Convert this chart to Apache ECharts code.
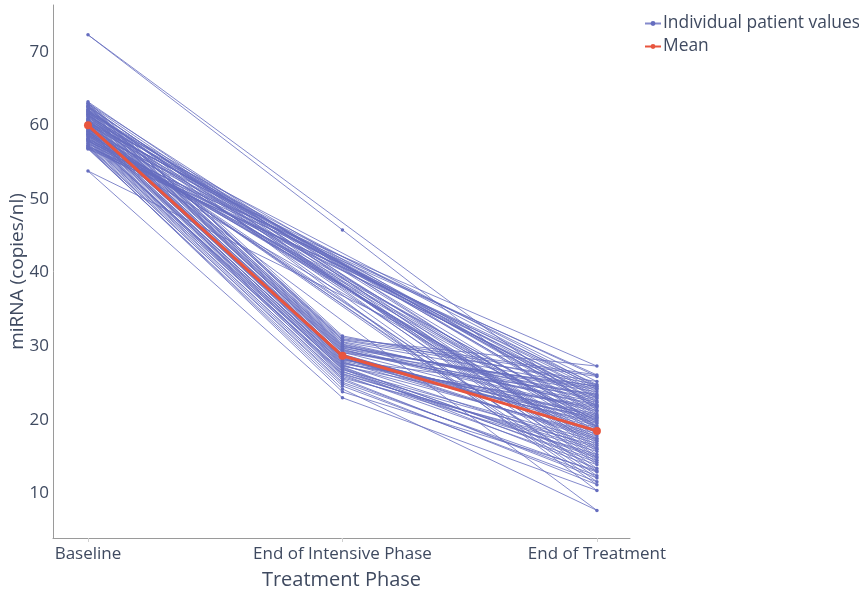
<!DOCTYPE html>
<html>
<head>
<meta charset="utf-8">
<script src="https://cdn.jsdelivr.net/npm/echarts@6/dist/echarts.min.js"></script>
<style>
html,body{margin:0;padding:0;background:#fff;}
#chart{width:859px;height:589px;}
</style>
</head>
<body>
<div id="chart"></div>
<script>
// Treatment phases (x categories)
const phases = ['Baseline', 'End of Intensive Phase', 'End of Treatment'];
const yTicks = [10, 20, 30, 40, 50, 60, 70];

// Individual patient values, one entry per patient
const baselineValues = [
  60.8, 58.2, 62.1, 59.4, 57.3, 61.5, 72.3, 60.2, 58.9, 63.2,
  56.8, 59.7, 61.9, 60.5, 57.9, 62.7, 59.1, 58.5, 61.2, 60.0,
  53.8, 62.4, 57.6, 59.8, 61.7, 58.1, 60.9, 63.0, 57.1, 59.5,
  61.0, 60.3, 58.7, 62.9, 56.9, 59.2, 61.4, 60.6, 58.3, 62.2,
  57.5, 59.9, 61.6, 60.1, 58.8, 62.6, 57.8, 59.3, 61.3, 60.4,
  58.0, 62.0, 57.2, 59.6, 61.8, 60.7, 58.6, 62.5, 57.0, 59.0
];
const intensiveValues = [
  28.9, 27.2, 30.5, 26.8, 25.4, 29.8, 45.8, 28.1, 27.5, 31.4,
  24.6, 28.4, 30.1, 29.2, 26.1, 30.8, 27.9, 25.9, 29.5, 28.7,
  23.0, 30.3, 26.5, 28.2, 29.9, 27.0, 28.8, 31.0, 25.1, 27.7,
  29.4, 28.6, 26.3, 30.6, 24.2, 27.4, 29.6, 28.3, 26.9, 30.0,
  25.7, 28.0, 29.7, 28.5, 27.1, 30.9, 25.6, 27.8, 29.3, 28.9,
  26.6, 30.2, 24.9, 27.6, 29.1, 28.4, 26.2, 31.2, 23.8, 27.3
];
const endValues = [
  19.2, 14.8, 22.6, 17.1, 12.4, 21.3, 19.0, 23.5, 16.2, 24.8,
  11.6, 18.7, 21.9, 20.4, 13.9, 25.2, 17.8, 15.3, 22.1, 19.9,
  10.4, 23.1, 16.8, 20.8, 24.1, 14.2, 18.3, 27.3, 12.9, 21.6,
  22.9, 20.1, 15.7, 24.5, 7.7, 18.1, 21.1, 19.5, 13.4, 23.8,
  16.5, 20.6, 24.3, 17.5, 15.0, 25.9, 12.1, 19.7, 22.4, 18.9,
  14.5, 23.3, 11.2, 21.8, 24.6, 17.3, 16.0, 26.1, 13.1, 20.3
];
// Mean per phase
const meanValues = [60.0, 28.7, 18.5];

// Build one long-format trace: patient by patient, phase by phase
const individualData = [];
for (let i = 0; i < baselineValues.length; i++) {
  individualData.push([0, baselineValues[i]]);
  individualData.push([1, intensiveValues[i]]);
  individualData.push([2, endValues[i]]);
}
const meanData = meanValues.map((v, i) => [i, v]);

const textColor = '#3f4a60';
const blue = '#656dbf';
const red = '#e8553e';
const chart = echarts.init(document.getElementById('chart'), null, {renderer: 'canvas'});
chart.setOption({
  animation: false,
  backgroundColor: '#ffffff',
  textStyle: {fontFamily: 'Open Sans'},
  grid: {left: 53, right: 229, top: 5, bottom: 51, containLabel: false, outerBoundsMode: 'none'},
  legend: {
    orient: 'vertical',
    left: 644,
    top: 15,
    padding: 0,
    itemGap: 6,
    itemWidth: 16,
    itemHeight: 6,
    textStyle: {fontSize: 17.4, color: textColor, fontFamily: 'Open Sans', padding: [0, 0, 0, -3]},
    data: ['Individual patient values', 'Mean']
  },
  xAxis: {
    type: 'value',
    min: -0.1375,
    max: 2.13,
    name: 'Treatment Phase',
    nameLocation: 'middle',
    nameGap: 32,
    nameTextStyle: {fontSize: 20, color: textColor, fontFamily: 'Open Sans'},
    splitLine: {show: false},
    axisLine: {show: true, onZero: false, lineStyle: {color: '#9a9a9a', width: 1}},
    axisTick: {show: true, length: 4, lineStyle: {color: '#d0d0d0'}, customValues: [0, 1, 2]},
    axisLabel: {
      fontSize: 17, color: textColor, margin: 8, fontFamily: 'Open Sans',
      customValues: [0, 1, 2],
      formatter: v => phases[Math.round(v)]
    }
  },
  yAxis: {
    type: 'value',
    min: 3.95,
    max: 76.35,
    name: 'miRNA (copies/nl)',
    nameLocation: 'middle',
    nameGap: 26,
    nameMoveOverlap: false,
    nameTextStyle: {fontSize: 19, color: textColor, fontFamily: 'Open Sans'},
    splitLine: {show: false},
    axisLine: {show: true, onZero: false, lineStyle: {color: '#9a9a9a', width: 1}},
    axisTick: {show: false},
    axisLabel: {
      fontSize: 17, color: textColor, margin: 4, fontFamily: 'Open Sans',
      customValues: yTicks
    }
  },
  series: [
    {
      name: 'Individual patient values',
      type: 'line',
      data: individualData,
      symbol: 'circle',
      symbolSize: 3.5,
      showSymbol: true,
      itemStyle: {color: blue},
      lineStyle: {color: blue, width: 1, opacity: 0.8},
      emphasis: {disabled: true},
      z: 2
    },
    {
      name: 'Mean',
      type: 'line',
      data: meanData,
      symbol: 'circle',
      symbolSize: 8,
      itemStyle: {color: red},
      lineStyle: {color: red, width: 3},
      emphasis: {disabled: true},
      z: 5
    }
  ]
});
</script>
</body>
</html>
